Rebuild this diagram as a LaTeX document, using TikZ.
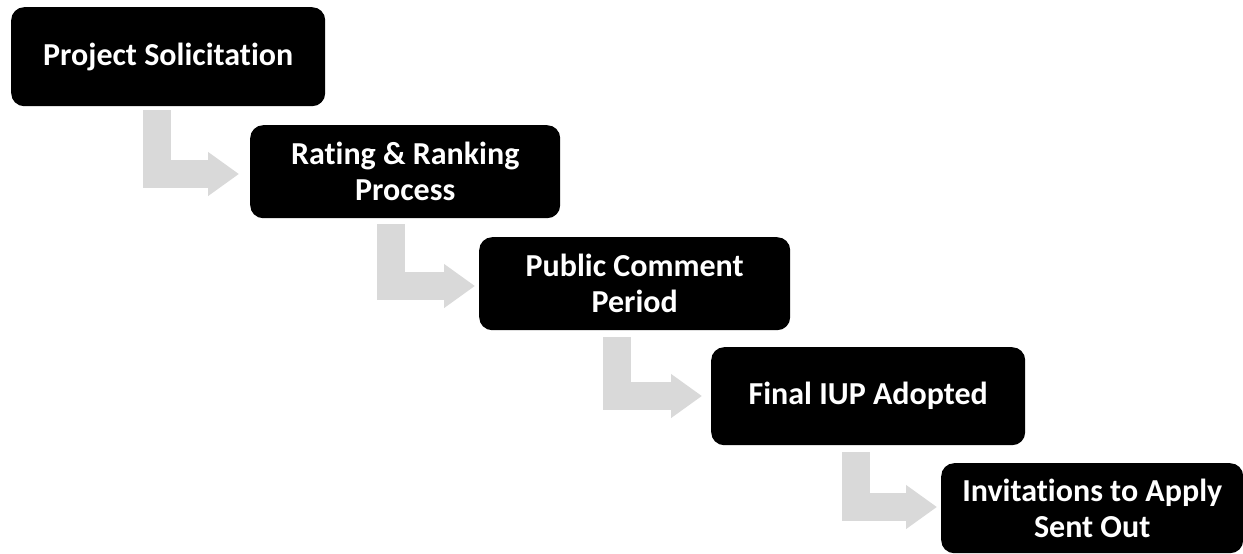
\documentclass[tikz,border=0pt]{standalone}
\usepackage{fontspec}
\setmainfont{Carlito}[Ligatures=NoCommon]
\usetikzlibrary{arrows.meta,calc}
\tikzset{
  stepbox/.style={fill=black, rounded corners=13pt, text=white, font=\fontsize{32}{36}\selectfont\bfseries, align=center, anchor=north west, inner sep=0pt},
  flowarrow/.style={draw=arrowgray, line width=28pt, line join=miter, line cap=butt, -{Triangle[width=42pt,length=31pt]}}
}
\definecolor{arrowgray}{HTML}{D9D9D9}
\begin{document}
\begin{tikzpicture}[x=1pt,y=-1pt]
\clip (0,0) rectangle (1243,554);
\fill[white] (0,0) rectangle (1243,554);
\node[stepbox, minimum width=314pt, minimum height=99pt] (b1) at (11,7) {Project Solicitation};
\node[stepbox, minimum width=310pt, minimum height=93pt] (b2) at (250,125) {Rating \& Ranking\\Process};
\node[stepbox, minimum width=311pt, minimum height=93pt] (b3) at (479,237) {Public Comment\\Period};
\node[stepbox, minimum width=314pt, minimum height=98pt] (b4) at (711,347) {Final IUP Adopted};
\node[stepbox, minimum width=302pt, minimum height=90pt] (b5) at (941,463) {Invitations to Apply\\Sent Out};
\coordinate (a1s) at ($(b1.south west)+(146,4)$);
\coordinate (a1e) at ($(b2.north west)+(-11,49)$);
\coordinate (a2s) at ($(b2.south west)+(141,6)$);
\coordinate (a2e) at ($(b3.north west)+(-4,49)$);
\coordinate (a3s) at ($(b3.south west)+(138,7)$);
\coordinate (a3e) at ($(b4.north west)+(-9,49)$);
\coordinate (a4s) at ($(b4.south west)+(145,7)$);
\coordinate (a4e) at ($(b5.north west)+(-4,44)$);
\draw[flowarrow] (a1s) |- (a1e);
\draw[flowarrow] (a2s) |- (a2e);
\draw[flowarrow] (a3s) |- (a3e);
\draw[flowarrow] (a4s) |- (a4e);
\end{tikzpicture}
\end{document}
